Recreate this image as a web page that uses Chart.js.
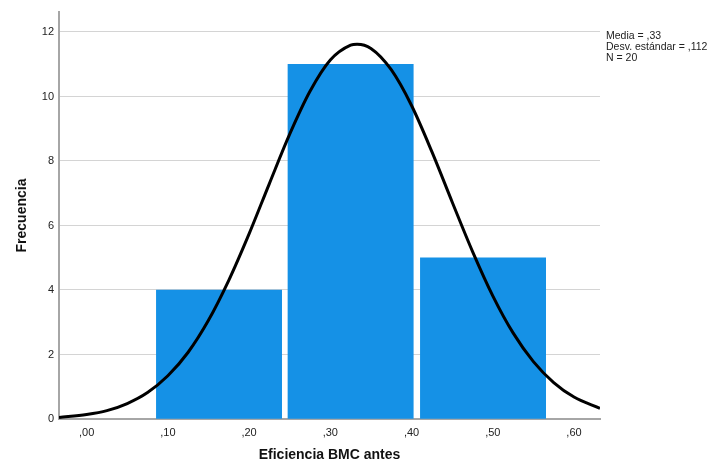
<!DOCTYPE html>
<html>
<head>
<meta charset="utf-8">
<script src="https://cdn.jsdelivr.net/npm/chart.js@4"></script>
<style>
  html, body { margin: 0; padding: 0; background: #ffffff; }
  #wrap { width: 709px; height: 465px; }
</style>
</head>
<body>
<div id="wrap"><canvas id="c" width="709" height="465"></canvas></div>
<script>
// ---- data ----
const xTickValues = [0, 0.1, 0.2, 0.3, 0.4, 0.5, 0.6];
const xTickLabels = [',00', ',10', ',20', ',30', ',40', ',50', ',60'];
const yTickValues = [0, 2, 4, 6, 8, 10, 12];
const binCenters = [0.163, 0.325, 0.488];
const frequencies = [4, 11, 5];
const curveX = [-0.034, 0.0, 0.025, 0.05, 0.075, 0.10, 0.125, 0.15, 0.175, 0.20, 0.225, 0.25, 0.275, 0.30, 0.325, 0.333, 0.35, 0.375, 0.40, 0.425, 0.45, 0.475, 0.50, 0.525, 0.55, 0.575, 0.60, 0.632];
const curveY = [0.05, 0.14, 0.26, 0.48, 0.82, 1.34, 2.07, 3.06, 4.30, 5.74, 7.30, 8.83, 10.16, 11.13, 11.59, 11.62, 11.49, 10.83, 9.72, 8.29, 6.73, 5.20, 3.82, 2.67, 1.78, 1.13, 0.68, 0.33];
const statsLines = ['Media = ,33', 'Desv. estándar = ,112', 'N = 20'];
const xTitle = 'Eficiencia BMC antes';
const yTitle = 'Frecuencia';

const xMin = -0.034, xMax = 0.632, yMax = 12.62;
const barFill = 0.952; // share of each bin that the bar covers (rest is the white gap)

const barData = binCenters.map((c, i) => ({ x: c, y: frequencies[i] }));
const curveData = curveX.map((x, i) => ({ x: x, y: curveY[i] }));

const statsPlugin = {
  id: 'stats',
  afterDraw(chart) {
    const ctx = chart.ctx;
    ctx.save();
    ctx.font = '10.5px "Liberation Sans", Arial, sans-serif';
    ctx.fillStyle = '#222222';
    ctx.textAlign = 'left';
    ctx.textBaseline = 'middle';
    statsLines.forEach((t, i) => ctx.fillText(t, 606, 36.5 + i * 10.7));
    ctx.restore();
  }
};

const chart = new Chart(document.getElementById('c'), {
  data: {
    datasets: [
      {
        type: 'line',
        data: curveData,
        xAxisID: 'x',
        yAxisID: 'y',
        borderColor: '#000000',
        borderWidth: 3,
        pointRadius: 0,
        fill: false,
        cubicInterpolationMode: 'monotone',
        order: 0
      },
      {
        type: 'bar',
        data: barData,
        xAxisID: 'x',
        yAxisID: 'y',
        backgroundColor: '#1591E6',
        borderWidth: 0,
        order: 1
      }
    ]
  },
  options: {
    responsive: false,
    animation: false,
    devicePixelRatio: 1,
    layout: { padding: { left: 0, top: 12, right: 109, bottom: 0 } },
    plugins: { legend: { display: false }, tooltip: { enabled: false } },
    scales: {
      x: {
        type: 'linear',
        position: 'bottom',
        min: xMin,
        max: xMax,
        offset: false,
        afterBuildTicks: (axis) => { axis.ticks = xTickValues.map(v => ({ value: v })); },
        afterFit: (axis) => { axis.height = 46; },
        grid: { display: false, drawTicks: false, offset: false },
        border: { display: true, color: '#a6a6a6', width: 2 },
        ticks: {
          padding: 7,
          maxRotation: 0,
          autoSkip: false,
          color: '#222222',
          font: { family: '"Liberation Sans", Arial, sans-serif', size: 11 },
          callback: (v) => { const i = xTickValues.findIndex(t => Math.abs(t - v) < 1e-9); return i >= 0 ? xTickLabels[i] : ''; }
        },
        title: {
          display: true,
          text: xTitle,
          color: '#111111',
          font: { family: '"Liberation Sans", Arial, sans-serif', size: 14, weight: 'bold' },
          padding: { top: 0, bottom: 1.6 }
        }
      },
      y: {
        type: 'linear',
        position: 'left',
        min: 0,
        max: yMax,
        afterBuildTicks: (axis) => { axis.ticks = yTickValues.map(v => ({ value: v })); },
        afterFit: (axis) => { axis.width = 59; },
        grid: { display: true, color: '#d4d4d4', lineWidth: 1, drawTicks: false },
        border: { display: true, color: '#a6a6a6', width: 2 },
        ticks: {
          padding: 5,
          color: '#222222',
          font: { family: '"Liberation Sans", Arial, sans-serif', size: 11 },
          callback: (v) => String(v)
        },
        title: {
          display: true,
          text: yTitle,
          color: '#111111',
          font: { family: '"Liberation Sans", Arial, sans-serif', size: 14, weight: 'bold' },
          padding: { top: 13.6, bottom: 0 }
        }
      }
    }
  },
  plugins: [statsPlugin]
});

// bar width = bin width on the x scale, minus the white gap
const sx = chart.scales.x;
const binPx = Math.abs(sx.getPixelForValue(binCenters[1]) - sx.getPixelForValue(binCenters[0]));
chart.data.datasets[1].barThickness = binPx * barFill;
chart.update();
</script>
</body>
</html>
